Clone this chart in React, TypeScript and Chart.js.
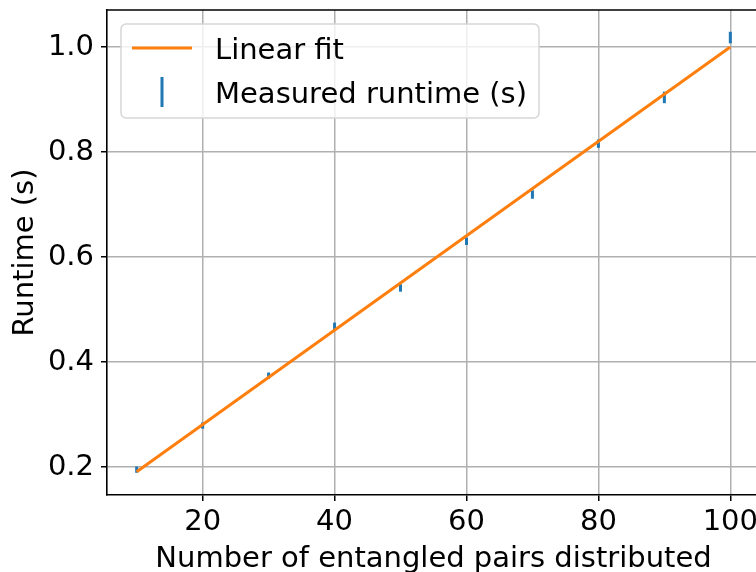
import React, { useEffect, useRef } from 'react';
import { Chart, registerables } from 'chart.js';

Chart.register(...registerables);

const pairs = [10, 20, 30, 40, 50, 60, 70, 80, 90, 100];
const runtime = [0.195, 0.279, 0.374, 0.468, 0.541, 0.630, 0.719, 0.816, 0.904, 1.018];
const runtimeErr = [0.006, 0.006, 0.006, 0.007, 0.007, 0.007, 0.008, 0.008, 0.011, 0.011];
const fitX = [10, 100];
const fitY = [0.191, 1.0];
const xTicks = [20, 40, 60, 80, 100];
const yTicks = [0.2, 0.4, 0.6, 0.8, 1.0];

const BLUE = '#1f77b4';
const ORANGE = '#ff7f0e';
const FONT = "'DejaVu Sans', sans-serif";
const FS = 29;

const errorBarPlugin = {
  id: 'errorBars',
  beforeDatasetsDraw(chart: any) {
    const ctx = chart.ctx;
    const xs = chart.scales.x;
    const ys = chart.scales.y;
    ctx.save();
    ctx.strokeStyle = BLUE;
    ctx.lineWidth = 3;
    pairs.forEach((p, i) => {
      const px = xs.getPixelForValue(p);
      ctx.beginPath();
      ctx.moveTo(px, ys.getPixelForValue(runtime[i] - runtimeErr[i]));
      ctx.lineTo(px, ys.getPixelForValue(runtime[i] + runtimeErr[i]));
      ctx.stroke();
    });
    ctx.restore();
  },
};

const frameLegendPlugin = {
  id: 'frameLegend',
  afterDraw(chart: any) {
    const ctx = chart.ctx;
    const a = chart.chartArea;
    ctx.save();
    // top and right spines
    ctx.strokeStyle = '#000';
    ctx.lineWidth = 1.6;
    ctx.beginPath();
    ctx.moveTo(a.left - 0.8, a.top);
    ctx.lineTo(a.right + 0.8, a.top);
    ctx.stroke();
    ctx.beginPath();
    ctx.moveTo(a.right, a.top);
    ctx.lineTo(a.right, a.bottom);
    ctx.stroke();

    // legend box
    const bx = a.left + 14, by = a.top + 14, bw = 418, bh = 94, r = 5;
    ctx.beginPath();
    ctx.moveTo(bx + r, by);
    ctx.lineTo(bx + bw - r, by);
    ctx.arcTo(bx + bw, by, bx + bw, by + r, r);
    ctx.lineTo(bx + bw, by + bh - r);
    ctx.arcTo(bx + bw, by + bh, bx + bw - r, by + bh, r);
    ctx.lineTo(bx + r, by + bh);
    ctx.arcTo(bx, by + bh, bx, by + bh - r, r);
    ctx.lineTo(bx, by + r);
    ctx.arcTo(bx, by, bx + r, by, r);
    ctx.closePath();
    ctx.fillStyle = 'rgba(255,255,255,0.8)';
    ctx.fill();
    ctx.strokeStyle = '#d6d6d6';
    ctx.lineWidth = 1.5;
    ctx.stroke();

    const labels = chart.data.datasets.map((d: any) => d.label);
    ctx.font = `${FS}px ${FONT}`;
    ctx.fillStyle = '#000';
    ctx.textBaseline = 'alphabetic';
    ctx.textAlign = 'left';
    // entry 1: line
    ctx.strokeStyle = ORANGE;
    ctx.lineWidth = 3;
    ctx.beginPath();
    ctx.moveTo(bx + 11, by + 24);
    ctx.lineTo(bx + 71, by + 24);
    ctx.stroke();
    ctx.fillText(labels[0], bx + 94, by + 35);
    // entry 2: errorbar
    ctx.strokeStyle = BLUE;
    ctx.beginPath();
    ctx.moveTo(bx + 41, by + 53);
    ctx.lineTo(bx + 41, by + 83);
    ctx.stroke();
    ctx.fillText(labels[1], bx + 94, by + 79);
    ctx.restore();
  },
};

export default function App() {
  const ref = useRef<HTMLCanvasElement | null>(null);
  useEffect(() => {
    if (!ref.current) return;
    const chart = new Chart(ref.current, {
      type: 'scatter',
      data: {
        datasets: [
          {
            type: 'line',
            label: 'Linear fit',
            data: fitX.map((x, i) => ({ x, y: fitY[i] })),
            borderColor: ORANGE,
            borderWidth: 3,
            pointRadius: 0,
            fill: false,
          },
          {
            type: 'scatter',
            label: 'Measured runtime (s)',
            data: pairs.map((x, i) => ({ x, y: runtime[i] })),
            backgroundColor: BLUE,
            borderColor: BLUE,
            pointRadius: 0,
          },
        ],
      },
      options: {
        responsive: false,
        animation: false,
        devicePixelRatio: 1,
        layout: { padding: { top: 10, right: 2, left: 0, bottom: 0 } },
        plugins: { legend: { display: false }, tooltip: { enabled: false } },
        scales: {
          x: {
            type: 'linear',
            min: 5.5,
            max: 104.5,
            afterBuildTicks: (s: any) => { s.ticks = xTicks.map((v) => ({ value: v })); },
            afterFit: (s: any) => { s.height = 77; s.paddingLeft = 0; s.paddingRight = 0; },
            ticks: { font: { family: FONT, size: FS }, color: '#000', padding: 4, maxRotation: 0 },
            grid: { color: '#b0b0b0', lineWidth: 1.5, tickColor: '#000', tickLength: 6, tickWidth: 1.5 },
            border: { color: '#000', width: 1.6 },
            title: { display: true, text: 'Number of entangled pairs distributed', color: '#000', font: { family: FONT, size: FS, lineHeight: 1 }, padding: { top: 0, bottom: -2 } },
          },
          y: {
            type: 'linear',
            min: 0.1467,
            max: 1.0705,
            afterBuildTicks: (s: any) => { s.ticks = yTicks.map((v) => ({ value: v })); },
            afterFit: (s: any) => { s.width = 107; s.paddingTop = 0; s.paddingBottom = 0; },
            ticks: { font: { family: FONT, size: FS }, color: '#000', padding: 7, callback: (v: any) => Number(v).toFixed(1) },
            grid: { color: '#b0b0b0', lineWidth: 1.5, tickColor: '#000', tickLength: 6, tickWidth: 1.5 },
            border: { color: '#000', width: 1.6 },
            title: { display: true, text: 'Runtime (s)', color: '#000', font: { family: FONT, size: FS }, padding: { top: 8, bottom: 0 } },
          },
        },
      },
      plugins: [errorBarPlugin, frameLegendPlugin],
    } as any);
    return () => chart.destroy();
  }, []);
  return (
    <div style={{ position: 'fixed', left: 0, top: 0, width: 756, height: 572, overflow: 'hidden', background: '#fff' }}>
      <canvas ref={ref} width={762} height={572} style={{ width: 762, height: 572, display: 'block' }} />
    </div>
  );
}
